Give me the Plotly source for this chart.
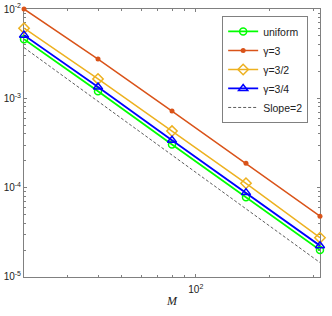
import plotly.graph_objects as go

M = [20, 40, 80, 160, 320]
err_uniform = [4.6e-3, 1.2e-3, 3.05e-4, 7.8e-5, 2.0e-5]
err_g3 = [1.0e-2, 2.75e-3, 7.2e-4, 1.88e-4, 4.8e-5]
err_g32 = [6.1e-3, 1.65e-3, 4.3e-4, 1.12e-4, 2.75e-5]
err_g34 = [5.1e-3, 1.34e-3, 3.4e-4, 8.8e-5, 2.24e-5]
slope_M = [20, 320]
slope_err = [3.7e-3, 1.45e-5]

ytickvals = [1e-5, 1e-4, 1e-3, 1e-2]
yticktext = ["10<sup>-5</sup>", "10<sup>-4</sup>", "10<sup>-3</sup>", "10<sup>-2</sup>"]
yminor = [k * 10 ** e for e in range(-5, -2) for k in range(2, 10)]

xtickvals = [100]
xticktext = ["10<sup>2</sup>"]
xminor = [20, 30, 40, 50, 60, 70, 80, 90, 200, 300]

fig = go.Figure()
fig.add_trace(go.Scatter(x=M, y=err_uniform, name="uniform", mode="lines+markers", cliponaxis=False,
                         line=dict(color="#00FF00", width=1.8),
                         marker=dict(symbol="circle-open", size=7, color="#00FF00", line=dict(width=1.5))))
fig.add_trace(go.Scatter(x=M, y=err_g3, name="γ=3", mode="lines+markers", cliponaxis=False,
                         line=dict(color="#D95319", width=1.5),
                         marker=dict(symbol="circle", size=5, color="#D95319")))
fig.add_trace(go.Scatter(x=M, y=err_g32, name="γ=3/2", mode="lines+markers", cliponaxis=False,
                         line=dict(color="#EDB120", width=1.5),
                         marker=dict(symbol="diamond-open", size=8, color="#EDB120", line=dict(width=1.5))))
fig.add_trace(go.Scatter(x=M, y=err_g34, name="γ=3/4", mode="lines+markers", cliponaxis=False,
                         line=dict(color="#0000FF", width=1.8),
                         marker=dict(symbol="triangle-up-open", size=8, color="#0000FF", line=dict(width=1.5))))
fig.add_trace(go.Scatter(x=slope_M, y=slope_err, name="Slope=2", mode="lines",
                         line=dict(color="#333333", width=0.8, dash="3px,2px")))

axis_common = dict(showline=True, linecolor="#808080", linewidth=1, mirror="ticks",
                   ticks="inside", ticklen=3, tickcolor="#808080", showgrid=False, automargin=False,
                   zeroline=False, layer="below traces",
                   tickfont=dict(family="Liberation Sans, Arial", size=10, color="#222"))

fig.update_xaxes(type="log", range=[1.30095, 2.50522], tickmode="array", tickvals=xtickvals, ticktext=xticktext,
                 minor=dict(tickmode="array", tickvals=xminor, ticks="inside", ticklen=2, tickcolor="#808080"),
                 title=dict(text="<i>M</i>", font=dict(family="Liberation Serif, Times New Roman", size=12, color="#222"),
                            standoff=2),
                 ticklabelstandoff=3,
                 **axis_common)
fig.update_yaxes(type="log", range=[-5.0001, -1.9999], tickmode="array", tickvals=ytickvals, ticktext=yticktext,
                 minor=dict(tickmode="array", tickvals=yminor, ticks="inside", ticklen=2, tickcolor="#808080"),
                 **axis_common)

fig.update_layout(
    width=332, height=316,
    margin=dict(l=24, r=12, t=9, b=39),
    plot_bgcolor="white", paper_bgcolor="white",
    font=dict(family="Liberation Sans, Arial", size=10, color="#222"),
    legend=dict(x=0.96, y=0.974, xanchor="right", yanchor="top",
                bgcolor="white", bordercolor="#808080", borderwidth=1,
                font=dict(size=10.5, family="Liberation Sans, Arial", color="#222"),
                tracegroupgap=0, itemwidth=30),
)

fig.write_html("out.html", config={"displayModeBar": False},
               post_script="document.body.style.margin='0';")
